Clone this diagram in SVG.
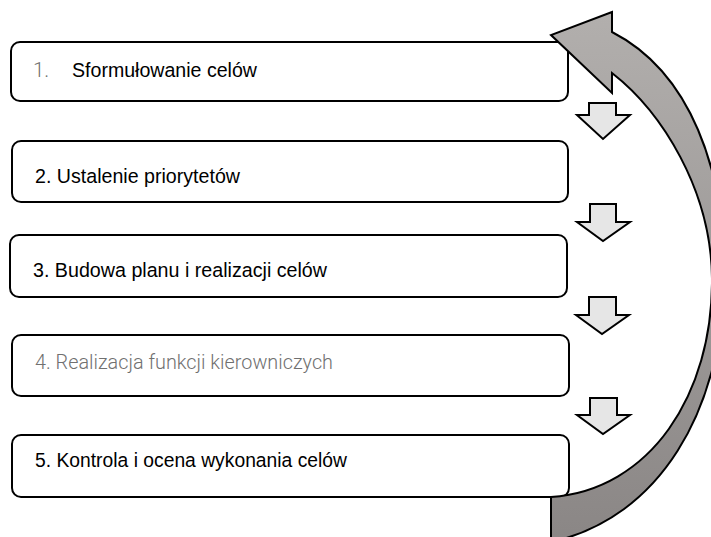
<svg xmlns="http://www.w3.org/2000/svg" width="711" height="537" viewBox="0 0 711 537">
<style>
.box{fill:#fff;stroke:#000;stroke-width:2}
.t{font-family:"Liberation Sans",Arial,sans-serif;font-size:20.5px;fill:#000}
.tl{font-family:Roboto,"Liberation Sans",sans-serif;font-weight:300;font-size:20.5px;fill:#707070}
.down{fill:#e6e6e6;stroke:#000;stroke-width:2;stroke-linejoin:miter}
.curve{fill:url(#g);stroke:#000;stroke-width:2;stroke-linejoin:miter}
</style>
<defs>
<linearGradient id="g" x1="0" y1="0" x2="0" y2="1">
<stop offset="0" stop-color="#b2afad"/>
<stop offset="1" stop-color="#8a8685"/>
</linearGradient>
</defs>
<rect width="711" height="537" fill="#fff"/>
<g id="node1">
<rect class="box" x="11" y="42" width="557" height="59" rx="9"/>
<text class="tl" x="33" y="77">1.</text>
<text class="t" x="72" y="77" textLength="185" lengthAdjust="spacingAndGlyphs">Sformułowanie celów</text>
</g>
<g id="node2">
<rect class="box" x="12" y="141" width="556" height="61" rx="9"/>
<text class="t" x="35" y="183" textLength="205" lengthAdjust="spacingAndGlyphs">2. Ustalenie priorytetów</text>
</g>
<g id="node3">
<rect class="box" x="10" y="235" width="557" height="62" rx="9"/>
<text class="t" x="33" y="277" textLength="294" lengthAdjust="spacingAndGlyphs">3. Budowa planu i realizacji celów</text>
</g>
<g id="node4">
<rect class="box" x="12" y="335" width="557" height="61" rx="9"/>
<text class="tl" x="35" y="369" textLength="298" lengthAdjust="spacingAndGlyphs">4. Realizacja funkcji kierowniczych</text>
</g>
<g id="node5">
<rect class="box" x="12" y="435" width="557" height="62" rx="9"/>
<text class="t" x="35" y="467" textLength="312" lengthAdjust="spacingAndGlyphs">5. Kontrola i ocena wykonania celów</text>
</g>
<g id="connectors">
<polygon class="down" points="589,103 616,103 616,115 630,115 603,139 577,115 589,115"/>
<polygon class="down" points="590,204 616,204 616,222 630,222 603,241 577,222 590,222"/>
<polygon class="down" points="589,297 616,297 616,315 629,315 602,334 576,315 589,315"/>
<polygon class="down" points="590,398 617,398 617,415 630,415 603,434 577,415 590,415"/>
<path class="curve" d="M551,545 L551,497 C650,490 713,395 712,278 C711,190 662,112 612,73 L612,93 L551,35 L612,12 L612,32 C690,72 726,170 724,280 C722,410 660,518 551,542 Z"/>
</g>
</svg>
